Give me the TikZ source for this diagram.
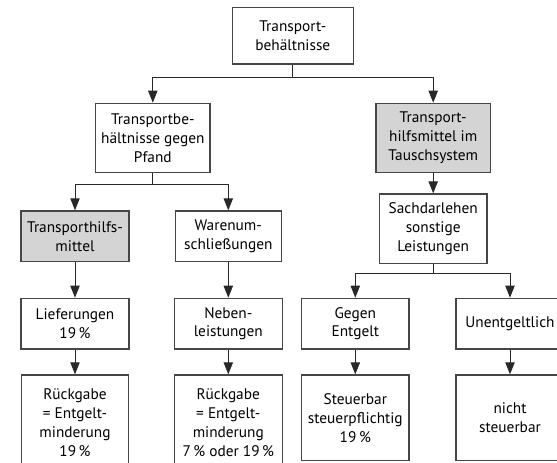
\documentclass[tikz,border=0pt]{standalone}
\usepackage{fontspec}
\setmainfont{PT Sans}
\usepackage{tikz}
\usetikzlibrary{arrows.meta}

\tikzset{
  box/.style={draw={rgb,255:red,70;green,70;blue,70}, line width=1pt, fill=white,
    inner sep=0.75pt, align=center,
    font=\fontsize{11.5}{14.1}\selectfont},
  graybox/.style={box, fill={rgb,255:red,212;green,212;blue,212}},
  arrow/.style={draw={rgb,255:red,40;green,40;blue,40}, line width=0.75pt,
    -{Triangle[length=9pt,width=7pt]}},
  stem/.style={draw={rgb,255:red,40;green,40;blue,40}, line width=0.75pt}
}

\begin{document}
\begin{tikzpicture}[x=0.75pt,y=0.75pt,yscale=-1,xscale=1]
\clip (0,0) rectangle (557,463);
\fill[white] (0,0) rectangle (557,463);

%Top
\node [box, minimum width=90.75pt, minimum height=42.5pt] (top) at (292.8,35.7) {Transport-\\behältnisse};
%Second row
\node [box, minimum width=85.7pt, minimum height=52pt] (pfand) at (152.8,138) {Transportbe-\\hältnisse gegen\\Pfand};
\node [graybox, minimum width=86pt, minimum height=52pt] (tausch) at (433.2,138) {Transport-\\hilfsmittel im\\Tauschsystem};
%Third row
\node [graybox, minimum width=81pt, minimum height=38pt] (thm) at (75,236.3) {Transporthilfs-\\mittel};
\node [box, minimum width=79.5pt, minimum height=38pt] (waren) at (228.3,236.3) {Warenum-\\schließungen};
\node [box, minimum width=80.8pt, minimum height=52pt] (sach) at (433.2,228.7) {Sachdarlehen\\sonstige\\Leistungen};
%Fourth row
\node [box, minimum width=81pt, minimum height=38pt] (lief) at (75,323.7) {Lieferungen\\19\,\%};
\node [box, minimum width=80.8pt, minimum height=38pt] (neben) at (228.3,323.7) {Neben-\\leistungen};
\node [box, minimum width=80.5pt, minimum height=38pt] (gegen) at (355.3,323.7) {Gegen\\Entgelt};
\node [box, minimum width=81pt, minimum height=38pt] (unent) at (510,323.7) {Unentgeltlich};
%Fifth row
\node [box, minimum width=80pt, minimum height=71.25pt] (rueck1) at (75,422.5) {Rückgabe\\= Entgelt-\\minderung\\19\,\%};
\node [box, minimum width=80.8pt, minimum height=71.25pt] (rueck2) at (228.3,422.5) {Rückgabe\\= Entgelt-\\minderung\\7\,\% oder 19\,\%};
\node [box, minimum width=80.5pt, minimum height=64.3pt] (steuer) at (355.3,417.9) {Steuerbar\\steuerpflichtig\\19\,\%};
\node [box, minimum width=81pt, minimum height=64.3pt] (nicht) at (510,417.9) {nicht\\steuerbar};

%Junctions
\coordinate (j1) at (292.8,77.3);
\coordinate (j2) at (152.8,185);
\coordinate (j3) at (433.2,273.3);

%Connectors
\draw [stem] (top.south) -- (j1);
\draw [arrow] (j1) -| (pfand.north);
\draw [arrow] (j1) -| (tausch.north);
\draw [stem] (pfand.south) -- (j2);
\draw [arrow] (j2) -| (thm.north);
\draw [arrow] (j2) -| (waren.north);
\draw [arrow] (tausch.south) -- (sach.north);
\draw [stem] (sach.south) -- (j3);
\draw [arrow] (j3) -| (gegen.north);
\draw [arrow] (j3) -| (unent.north);
\draw [arrow] (thm.south) -- (lief.north);
\draw [arrow] (waren.south) -- (neben.north);
\draw [arrow] (lief.south) -- (rueck1.north);
\draw [arrow] (neben.south) -- (rueck2.north);
\draw [arrow] (gegen.south) -- (steuer.north);
\draw [arrow] (unent.south) -- (nicht.north);

\end{tikzpicture}
\end{document}
